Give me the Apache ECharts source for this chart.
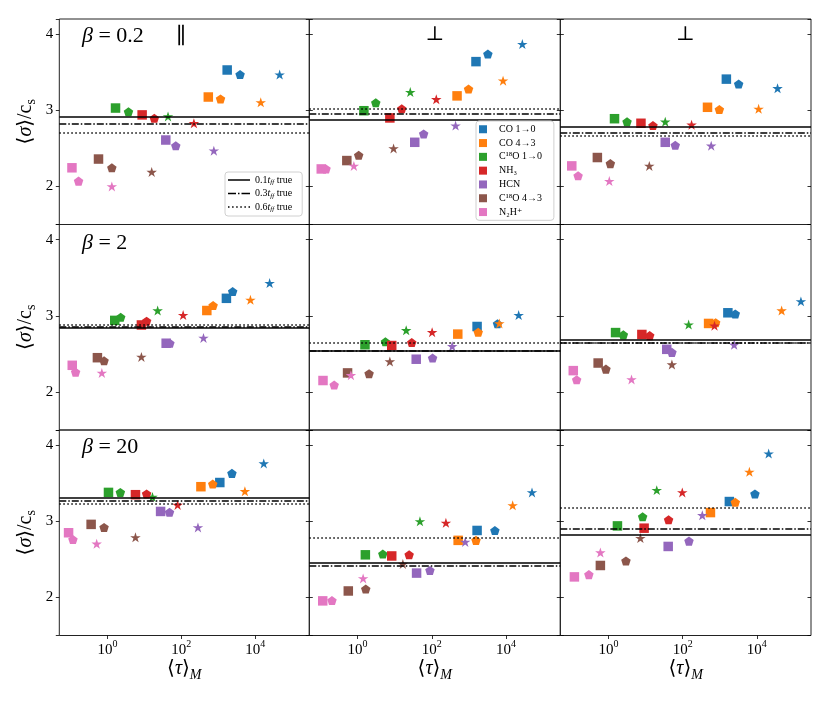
<!DOCTYPE html>
<html><head><meta charset="utf-8">
<script src="https://cdn.jsdelivr.net/npm/echarts@6/dist/echarts.min.js"></script>
<style>html,body{margin:0;padding:0;background:#fff}#c{width:830px;height:703px}</style>
</head><body><div id="c"></div>
<script>
// ---------- data ----------
const tracers = ['CO 1→0', 'CO 4→3', 'C¹⁸O 1→0', 'NH₃', 'HCN', 'C¹⁸O 4→3', 'N₂H⁺'];
const lineNames = ['0.1t_ff true', '0.3t_ff true', '0.6t_ff true'];
const betaLabels = ['0.2', '2', '20'];
const colLabels = ['∥', '⊥', '⊥'];
const xTickExponents = [0, 2, 4];
const yTicks = [2, 3, 4];

// each row: one tracer, values for [square, pentagon, star]
const tau_b02_par = [[1740,3890,45700],[537,1150,14100],[1.66,3.72,43.7],[8.71,18.6,219],[38.0,70.8,759],[0.575,1.32,15.8],[0.110,0.166,1.32]];
const sig_b02_par = [[3.53,3.47,3.47],[3.175,3.15,3.105],[3.03,2.98,2.92],[2.94,2.895,2.83],[2.61,2.535,2.47],[2.36,2.245,2.19],[2.245,2.07,2.00]];
const hl_b02_par = [2.91, 2.82, 2.705];

const tau_b02_perp1 = [[1550,3240,27500],[479,977,8320],[1.48,3.09,26.3],[7.41,15.5,132],[34.7,60.3,437],[0.513,1.07,9.33],[0.105,0.141,0.794]];
const sig_b02_perp1 = [[3.64,3.74,3.87],[3.19,3.28,3.39],[2.995,3.10,3.24],[2.90,3.02,3.145],[2.58,2.69,2.80],[2.34,2.41,2.50],[2.23,2.23,2.27]];
const hl_b02_perp1 = [2.87, 2.95, 3.02];

const tau_b02_perp2 = [[1510,3240,36300],[468,977,11200],[1.45,3.16,33.9],[7.5,15.8,174],[33.9,63.1,589],[0.50,1.12,12.6],[0.102,0.151,1.05]];
const sig_b02_perp2 = [[3.41,3.345,3.29],[3.04,3.01,3.02],[2.89,2.85,2.85],[2.83,2.80,2.81],[2.58,2.54,2.535],[2.38,2.30,2.27],[2.27,2.14,2.07]];
const hl_b02_perp2 = [2.79, 2.71, 2.66];

const tau_b2_par = [[1660,2450,24500],[490,724,7410],[1.58,2.29,22.9],[8.32,11.5,112],[38.9,49.0,398],[0.537,0.813,8.32],[0.112,0.138,0.708]];
const sig_b2_par = [[3.23,3.32,3.43],[3.07,3.135,3.21],[2.94,2.98,3.07],[2.88,2.93,3.01],[2.64,2.64,2.71],[2.45,2.41,2.46],[2.35,2.26,2.25]];
const hl_b2_par = [2.855, 2.862, 2.875];

const tau_b2_perp1 = [[1660,5890,21900],[501,1780,6610],[1.58,5.62,20.4],[8.32,28.8,102],[38.0,105,355],[0.537,2.04,7.41],[0.117,0.234,0.661]];
const sig_b2_perp1 = [[2.86,2.895,3.01],[2.76,2.785,2.90],[2.62,2.66,2.81],[2.61,2.65,2.785],[2.43,2.445,2.60],[2.25,2.24,2.40],[2.15,2.09,2.22]];
const hl_b2_perp1 = [2.54, 2.545, 2.65];

const tau_b2_perp2 = [[1660,2630,155000],[501,776,46800],[1.55,2.51,145],[7.94,12.9,724],[37.2,51.3,2450],[0.525,0.851,51.3],[0.112,0.138,4.17]];
const sig_b2_perp2 = [[3.04,3.025,3.19],[2.90,2.91,3.07],[2.78,2.75,2.885],[2.755,2.74,2.87],[2.56,2.52,2.62],[2.38,2.30,2.36],[2.28,2.16,2.165]];
const hl_b2_perp2 = [2.695, 2.64, 2.648];

const tau_b20_par = [[1100,2340,17000],[339,708,5250],[1.07,2.24,16.6],[5.75,11.5,79.4],[27.5,47.9,282],[0.363,0.813,5.75],[0.0891,0.117,0.513]];
const sig_b20_par = [[3.51,3.63,3.76],[3.455,3.49,3.395],[3.38,3.38,3.32],[3.35,3.36,3.215],[3.13,3.12,2.92],[2.96,2.92,2.79],[2.85,2.76,2.705]];
const hl_b20_par = [3.315, 3.27, 3.235];

const tau_b20_perp1 = [[1660,5010,50100],[513,1550,15100],[1.62,4.79,47.9],[8.32,24.5,240],[38.9,89.1,794],[0.562,1.66,16.6],[0.115,0.204,1.41]];
const sig_b20_perp1 = [[2.88,2.88,3.38],[2.75,2.75,3.21],[2.56,2.57,3.00],[2.545,2.56,2.98],[2.32,2.355,2.73],[2.085,2.11,2.44],[1.955,1.96,2.25]];
const hl_b20_perp1 = [2.45, 2.425, 2.785];

const tau_b20_perp2 = [[1820,8910,20900],[562,2630,6310],[1.74,8.32,20.0],[9.12,41.7,97.7],[40.7,148,339],[0.603,2.95,7.24],[0.120,0.295,0.603]];
const sig_b20_perp2 = [[3.26,3.36,3.89],[3.115,3.25,3.65],[2.94,3.06,3.41],[2.91,3.02,3.38],[2.67,2.74,3.08],[2.42,2.48,2.78],[2.27,2.30,2.59]];
const hl_b20_perp2 = [2.825, 2.90, 3.18];

// ---------- styling ----------
const colors = ['#1f77b4','#ff7f0e','#2ca02c','#d62728','#9467bd','#8c564b','#e377c2'];
const PENT = 'path://M0,-1L0.951,-0.309L0.588,0.809L-0.588,0.809L-0.951,-0.309Z';
const STAR = 'path://M0,-1L0.2245,-0.309L0.951,-0.309L0.363,0.118L0.588,0.809L0,0.382L-0.588,0.809L-0.363,0.118L-0.951,-0.309L-0.2245,-0.309Z';
const SQR = 'path://M0,0L1,0L1,1L0,1Z';
const markerSymbols = ['rect', PENT, STAR];
const markerSizes = [9.5, 9.5, 10.5];
const lineTypes = ['solid', [7, 2, 1.5, 2], [1.5, 2.5]];
const legendLineIcons = [
  'path://M0,0H22V1.5H0Z',
  'path://M0,0H8V1.5H0Z M10,0H11.5V1.5H10Z M13.5,0H22V1.5H13.5Z',
  'path://M0,0H1.5V1.5H0Z M4.1,0H5.6V1.5H4.1Z M8.2,0H9.7V1.5H8.2Z M12.3,0H13.8V1.5H12.3Z M16.4,0H17.9V1.5H16.4Z M20.5,0H22V1.5H20.5Z'
];
const FF = '"Liberation Serif","DejaVu Serif",serif';

const panels = [
  [tau_b02_par, sig_b02_par, hl_b02_par], [tau_b02_perp1, sig_b02_perp1, hl_b02_perp1], [tau_b02_perp2, sig_b02_perp2, hl_b02_perp2],
  [tau_b2_par, sig_b2_par, hl_b2_par], [tau_b2_perp1, sig_b2_perp1, hl_b2_perp1], [tau_b2_perp2, sig_b2_perp2, hl_b2_perp2],
  [tau_b20_par, sig_b20_par, hl_b20_par], [tau_b20_perp1, sig_b20_perp1, hl_b20_perp1], [tau_b20_perp2, sig_b20_perp2, hl_b20_perp2]
];

const colLeft = [59.3, 309.3, 560.3], colWidth = [250, 251, 250.7];
const rowTop = [19, 224.5, 430], rowH = 205.5;
const X_MIN = 0.05, X_MAX = 2.9e5, Y_MIN = 1.5, Y_MAX = 4.2;

const grids = [], xAxes = [], yAxes = [], series = [];
const tickStyle = {color: '#000', width: 0.8};

panels.forEach((P, p) => {
  const r = Math.floor(p / 3), c = p % 3;
  const bottom = r === 2;
  grids.push({left: colLeft[c], top: rowTop[r], width: colWidth[c], height: rowH, show: true,
    borderColor: '#222', borderWidth: 1, backgroundColor: 'rgba(0,0,0,0)', containLabel: false, outerBoundsMode: 'none'});
  xAxes.push({type: 'log', logBase: 100, gridIndex: p, min: X_MIN, max: X_MAX,
    axisLine: {show: false}, splitLine: {show: false},
    axisTick: {show: bottom, inside: false, length: 3.5, lineStyle: tickStyle},
    axisLabel: {show: bottom, margin: 4, showMinLabel: false, showMaxLabel: false,
      formatter: v => { const e = Math.log10(v), k = Math.round(e);
        if (Math.abs(e - k) > 1e-6 || xTickExponents.indexOf(k) < 0) return '';
        return '{b|10}{sup|' + k + '}'; },
      rich: {b: {fontFamily: FF, fontSize: 15, lineHeight: 22, color: '#000'},
             sup: {fontFamily: FF, fontSize: 10, lineHeight: 10, verticalAlign: 'top', color: '#000'}}},
    name: bottom ? '{b|⟨}{i|τ}{b|⟩}{s|M}' : '', nameLocation: 'middle', nameGap: 20,
    nameTextStyle: {rich: {b: {fontFamily: FF, fontSize: 20, lineHeight: 26, color: '#000'},
      i: {fontFamily: FF, fontStyle: 'italic', fontSize: 20, lineHeight: 26, color: '#000'},
      s: {fontFamily: FF, fontStyle: 'italic', fontSize: 14, lineHeight: 14, verticalAlign: 'bottom', color: '#000'}}}
  });
  const yBase = {type: 'value', gridIndex: p, min: Y_MIN, max: Y_MAX, splitNumber: 3,
    axisLine: {show: false}, splitLine: {show: false}};
  yAxes.push(Object.assign({}, yBase, {position: 'left',
    axisTick: {show: true, inside: c !== 0, length: 3.5, lineStyle: tickStyle},
    axisLabel: {show: c === 0, margin: 6, fontFamily: FF, fontSize: 15, color: '#000',
      formatter: v => yTicks.indexOf(v) >= 0 ? String(v) : ''},
    name: c === 0 ? '{b|⟨}{i|σ}{b|⟩/c}{s|s}' : '', nameLocation: 'middle', nameRotate: 90, nameGap: 21,
    nameTextStyle: {rich: {b: {fontFamily: FF, fontSize: 20, lineHeight: 26, color: '#000'},
      i: {fontFamily: FF, fontStyle: 'italic', fontSize: 20, lineHeight: 26, color: '#000'},
      s: {fontFamily: FF, fontSize: 14, lineHeight: 14, verticalAlign: 'bottom', color: '#000'}}}
  }));
  yAxes.push(Object.assign({}, yBase, {position: 'right',
    axisTick: {show: true, inside: true, length: 3.5, lineStyle: tickStyle},
    axisLabel: {show: false}}));

  const [tau, sig, hl] = P;
  hl.forEach((v, k) => {
    series.push({type: 'line', name: lineNames[k], xAxisIndex: p, yAxisIndex: 2 * p, data: [],
      symbol: 'none', z: 2, lineStyle: {color: '#000', width: 1.5, type: lineTypes[k]},
      itemStyle: {color: '#000'},
      markLine: {silent: true, symbol: ['none', 'none'], label: {show: false}, animation: false,
        lineStyle: {color: '#000', width: 1.5, type: lineTypes[k]}, emphasis: {disabled: true},
        data: [{yAxis: v}]}});
  });
  tracers.forEach((name, t) => {
    series.push({type: 'scatter', name: name, xAxisIndex: p, yAxisIndex: 2 * p, z: 3,
      symbol: 'rect', itemStyle: {color: colors[t], opacity: 1},
      data: tau[t].map((x, m) => ({value: [x, sig[t][m]], symbol: markerSymbols[m], symbolSize: markerSizes[m], symbolKeepAspect: true}))});
  });
});

const graphics = [];
const betaY = [36, 243.5, 447];
betaLabels.forEach((b, r) => {
  graphics.push({type: 'text', x: 82, y: betaY[r], z: 10, style: {text: '{i|β} = ' + b, fontFamily: FF, fontSize: 22,
    fill: '#000', align: 'left', verticalAlign: 'middle',
    rich: {i: {fontFamily: FF, fontStyle: 'italic', fontSize: 22, fill: '#000'}}}});
});
graphics.push({type: 'text', x: 181, y: 37, z: 10, style: {text: colLabels[0], fontFamily: FF, fontSize: 22, fill: '#000', align: 'center', verticalAlign: 'middle'}});
graphics.push({type: 'text', x: 435, y: 35, z: 10, style: {text: colLabels[1], fontFamily: FF, fontSize: 20, fill: '#000', align: 'center', verticalAlign: 'middle'}});
graphics.push({type: 'text', x: 685.5, y: 35, z: 10, style: {text: colLabels[2], fontFamily: FF, fontSize: 20, fill: '#000', align: 'center', verticalAlign: 'middle'}});

const chart = echarts.init(document.getElementById('c'), null, {renderer: 'canvas'});
chart.setOption({
  animation: false,
  backgroundColor: '#fff',
  grid: grids, xAxis: xAxes, yAxis: yAxes, series: series,
  graphic: graphics,
  legend: [
    {data: lineNames.map((n, k) => ({name: n, icon: legendLineIcons[k], itemStyle: {color: '#000'}})),
      orient: 'vertical', left: 225, top: 172, padding: [3, 10, 3, 3],
      itemWidth: 22, itemHeight: 10, itemGap: 2.5, selectedMode: false,
      backgroundColor: '#fff', borderColor: '#d0d0d0', borderWidth: 1, borderRadius: 3, z: 20,
      formatter: n => { const m = n.match(/^([\d.]+)t_ff true$/); return '{b|' + m[1] + '}{i|t}{s|ff}{b| true}'; },
      textStyle: {rich: {b: {fontFamily: FF, fontSize: 10, lineHeight: 12, color: '#000'},
        i: {fontFamily: FF, fontStyle: 'italic', fontSize: 10, lineHeight: 12, color: '#000'},
        s: {fontFamily: FF, fontStyle: 'italic', fontSize: 7, lineHeight: 8, verticalAlign: 'bottom', color: '#000'}}}},
    {data: tracers, orient: 'vertical', left: 476, top: 121, padding: [3, 12, 3, 3],
      itemWidth: 22, itemHeight: 8, itemGap: 3.3, icon: SQR, selectedMode: false,
      backgroundColor: '#fff', borderColor: '#d0d0d0', borderWidth: 1, borderRadius: 3, z: 20,
      textStyle: {fontFamily: FF, fontSize: 10, lineHeight: 10.5, color: '#000'}}
  ]
});
</script>
</body></html>
